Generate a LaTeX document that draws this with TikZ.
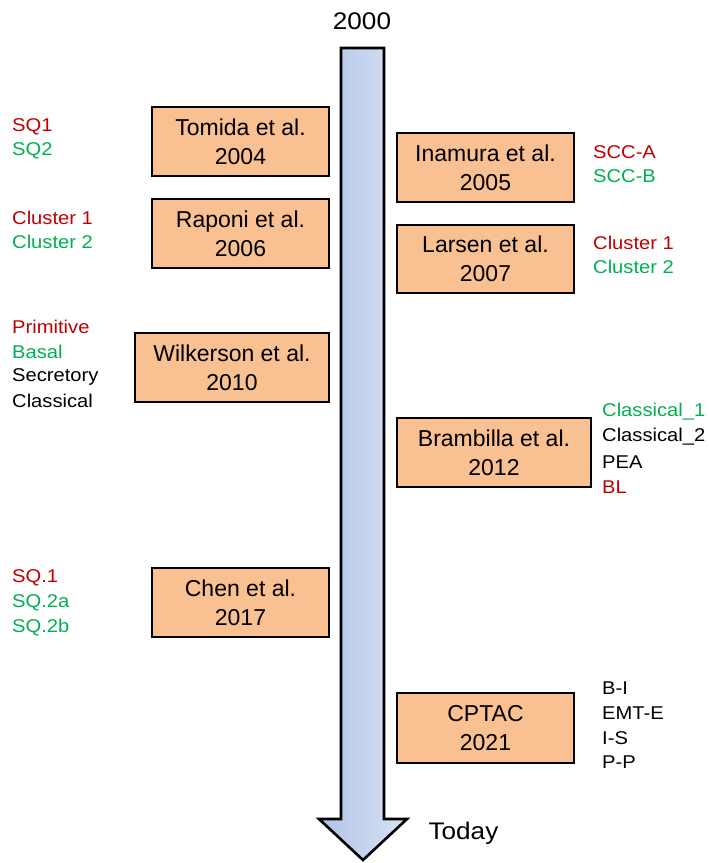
\documentclass[tikz,border=0pt]{standalone}
\usepackage{fontspec}
\setmainfont{Liberation Sans}
\newfontfamily\widesans[FakeStretch=1.09]{Liberation Sans}
\begin{document}
\begin{tikzpicture}[x=1pt,y=-1pt,
  study/.style={draw=black, line width=1.3pt, fill=boxfill, align=center,
    font=\fontsize{23}{29}\selectfont, inner sep=0pt},
  lab/.style={anchor=west, inner sep=0pt, font=\widesans\fontsize{18.5}{18.5}\selectfont},
  redl/.style={lab, text=subred},
  greenl/.style={lab, text=subgreen},
  blackl/.style={lab, text=black}]
\definecolor{boxfill}{HTML}{F9C091}
\definecolor{subred}{HTML}{C00000}
\definecolor{subgreen}{HTML}{00B050}
\definecolor{arrL}{HTML}{B0C4E8}
\definecolor{arrR}{HTML}{D9E2F3}
\useasboundingbox (0,0) rectangle (709,863);
% timeline arrow
\path[left color=arrL, right color=arrR, draw=black, line width=2.6pt, line join=miter]
  (341,48) -- (384,48) -- (384,819) -- (407,819) -- (363,860) -- (319,819) -- (341,819) -- cycle;
\node[font=\widesans\fontsize{24}{24}\selectfont] (t2000) at (362,21) {2000};
\node[font=\widesans\fontsize{24}{24}\selectfont, anchor=west] (today) at (425,833) {Today};
% studies
\node[study, minimum width=177, minimum height=69] (tomida) at (240.5,141.5) {Tomida et al.\\2004};
\node[study, minimum width=177, minimum height=69] (raponi) at (240.5,233.5) {Raponi et al.\\2006};
\node[study, minimum width=194, minimum height=69] (wilk) at (232,367.5) {Wilkerson et al.\\2010};
\node[study, minimum width=177, minimum height=69] (chen) at (240.5,602.5) {Chen et al.\\2017};
\node[study, minimum width=177, minimum height=69] (inam) at (485.5,167.5) {Inamura et al.\\2005};
\node[study, minimum width=177, minimum height=68] (lars) at (485.5,259) {Larsen et al.\\2007};
\node[study, minimum width=194, minimum height=69] (bram) at (494,452.5) {Brambilla et al.\\2012};
\node[study, minimum width=177, minimum height=70] (cptac) at (485.5,728) {CPTAC\\2021};
% left labels
\node[redl] (sq1) at (12,127) {SQ1};
\node[greenl] (sq2) at (12,151) {SQ2};
\node[redl] (rc1) at (12,218) {Cluster 1};
\node[greenl] (rc2) at (12,242) {Cluster 2};
\node[redl] (prim) at (12,327) {Primitive};
\node[greenl] (bas) at (12,352) {Basal};
\node[blackl] (sec) at (12,377) {Secretory};
\node[blackl] (cla) at (12,401) {Classical};
\node[redl] (sqa) at (12,578) {SQ.1};
\node[greenl] (sqb) at (12,603) {SQ.2a};
\node[greenl] (sqc) at (12,628) {SQ.2b};
% right labels
\node[redl] (scca) at (593,152) {SCC-A};
\node[greenl] (sccb) at (593,176) {SCC-B};
\node[redl] (lc1) at (593,243) {Cluster 1};
\node[greenl] (lc2) at (593,267) {Cluster 2};
\node[greenl] (c1) at (602,412) {Classical\_1};
\node[blackl] (c2) at (602,437) {Classical\_2};
\node[blackl] (pea) at (602,462) {PEA};
\node[redl] (bl) at (602,487) {BL};
\node[blackl] (bi) at (602,688) {B-I};
\node[blackl] (emt) at (602,713) {EMT-E};
\node[blackl] (is) at (602,738) {I-S};
\node[blackl] (pp) at (602,762) {P-P};
\end{tikzpicture}
\end{document}
